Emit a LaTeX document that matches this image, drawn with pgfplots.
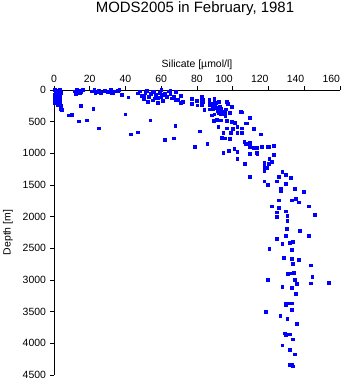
\documentclass[border=0pt]{standalone}
\usepackage{fontspec}
\setmainfont{Liberation Sans}
\usepackage{pgfplots}
\pgfplotsset{compat=1.18}
\definecolor{dotblue}{RGB}{0,0,255}
\begin{document}
\begin{tikzpicture}
\path[use as bounding box] (0,0) rectangle (351bp,384bp);
\node[font=\fontsize{15}{17}\selectfont, anchor=base] at (195bp,371bp) {MODS2005 in February, 1981};
\begin{axis}[
  at={(54bp,9bp)}, anchor=south west,
  scale only axis, width=286bp, height=285bp,
  xmin=0, xmax=160, ymin=0, ymax=4500,
  y dir=reverse,
  axis x line*=top, axis y line*=left,
  xtick={0,20,...,160}, ytick={0,500,...,4500},
  xticklabels={0,20,40,60,80,\makebox[0pt][r]{100},\makebox[0pt][r]{120},\makebox[0pt][r]{140},\makebox[0pt][r]{160}},
  tick align=outside, major tick length=4bp,
  /pgf/number format/assume math mode=true,
  /pgf/number format/1000 sep={},
  tick label style={font=\fontsize{10.5}{12}\selectfont},
  yticklabel style={xshift=-0.5bp},
  label style={font=\fontsize{10.5}{12}\selectfont},
  xlabel={Silicate [µmol/l]},
  ylabel={Depth [m]},
  xlabel style={yshift=-1bp},
  ylabel style={yshift=3bp},
  axis line style={black, line width=0.8pt},
  tick style={black, line width=0.8pt},
  clip=false,
]
\addplot[only marks, mark=square*, mark size=1.4bp, dotblue, mark options={draw=dotblue, fill=dotblue}] table {
x y
0.5 0
1 10
2 5
3 0
1.5 30
0.8 50
2.5 60
1 80
2 90
0.5 100
3 110
1.5 120
2.2 140
0.7 150
1.8 160
3.5 170
1 180
2.5 190
1.2 200
3.2 220
2 240
4 250
1.5 20
3.8 40
0.3 70
2.8 130
4.1 305
3.8 290
0.2 200
0.3 160
7.9 398
10 388
14 492
15.1 252
18.1 477
21.9 299
25.2 603
39.8 383
43 697
47 666
53.8 477
62 786
11.5 20
12.5 0
13 40
14 10
15 30
16 0
12 60
14.5 50
21 20
22.5 0
24 30
25 10
26 40
23 50
28.5 10
30 30
31.5 0
33 40
34 20
35.5 10
32 50
36.5 0
38 80
41.5 115
47 50
48 20
49 90
50 140
51 40
52 10
53 100
54 60
55 160
56 20
57 80
58 120
59 40
60 0
61 170
62 50
63 100
64 20
56.5 130
52.5 190
58 200
60 110
61.5 70
55 30
50 110
65 60
66 130
67 100
67.8 147
69 147
70.8 199
70.8 94
65 10
68 30
72 180
66.8 760
67.8 566
78.8 891
81.6 650
85.7 854
97.9 964
94.7 985
102.5 975
100.8 933
106.4 818
109.6 828
107.2 854
109.6 891
111.5 917
113.4 907
116.2 901
119.3 891
122.7 880
109.6 1011
113.4 985
115.6 697
109.6 435
104.6 346
111.5 608
105 603
105 671
107.4 524
102.5 671
102.5 582
99.9 608
101.2 514
98.8 671
96.6 603
96.6 487
99.4 503
91.9 576
93.4 477
94.7 671
95.6 760
93.8 749
98.4 765
89.5 487
91 472
88.2 398
89.6 383
91.9 357
93.4 383
95.8 409
95.8 346
98.4 357
99.7 267
96.2 304
88 220
89 260
90 240
91 280
92 300
93 320
94 340
90.5 200
92.5 260
93.5 290
94 380
91.5 330
89 300
96.6 189
97 225
86.8 304
84 314
86.8 157
89.6 157
83.1 147
82.7 241
79.8 173
77.1 215
77 136
80.1 241
86.8 236
92.3 189
77 130
79.8 168
83 180
86.8 180
89.6 131
91.9 184
97 210
99.6 262
104.8 351
109.8 435
111.5 613
107.6 524
119.9 891
122.7 1027
82.7 100
82.7 170
82.7 200
86.8 200
113.7 1006
122.7 1022
102.5 1090
106.8 1164
109.6 1373
117.6 1150
117.6 1190
117.6 1220
117.6 1280
119.9 1168
120.4 1090
121.8 1127
119 1231
117.6 1441
119.6 1494
125.5 1373
124.6 1441
127.7 1294
129.4 1336
132.6 1389
129.4 1483
126.8 1560
126.8 1590
134.5 1561
139.5 1608
125.5 1740
132.8 1740
135.4 1719
136.7 1772
121.8 1835
125.5 1860
142.3 1835
129.4 1913
124.6 1929
130.5 1981
124.6 2002
145.7 1965
130.5 2065
130.2 2190
137.6 2217
142.7 2300
129.4 2296
124.6 2348
127.7 2427
131.7 2411
133.6 2390
120.4 2500
132.8 2527
128.5 2647
132.8 2663
136.7 2678
133.6 2747
143.4 2767
131.7 2893
133.9 2882
130.9 2898
144.5 2945
119.7 2992
134.5 2992
135.6 3055
143.4 3050
153.5 3040
127.7 3102
132.8 3124
135.4 3212
129.4 3370
131.7 3365
132.8 3365
129.8 3391
132.8 3464
118.6 3495
126.6 3558
130.5 3616
135.6 3695
128.9 3841
129.8 3868
131.7 3857
133.6 3936
127.7 4030
131.7 4104
134.5 4172
131.7 4340
132.8 4329
133.6 4360
};
\end{axis}
\end{tikzpicture}
\end{document}
